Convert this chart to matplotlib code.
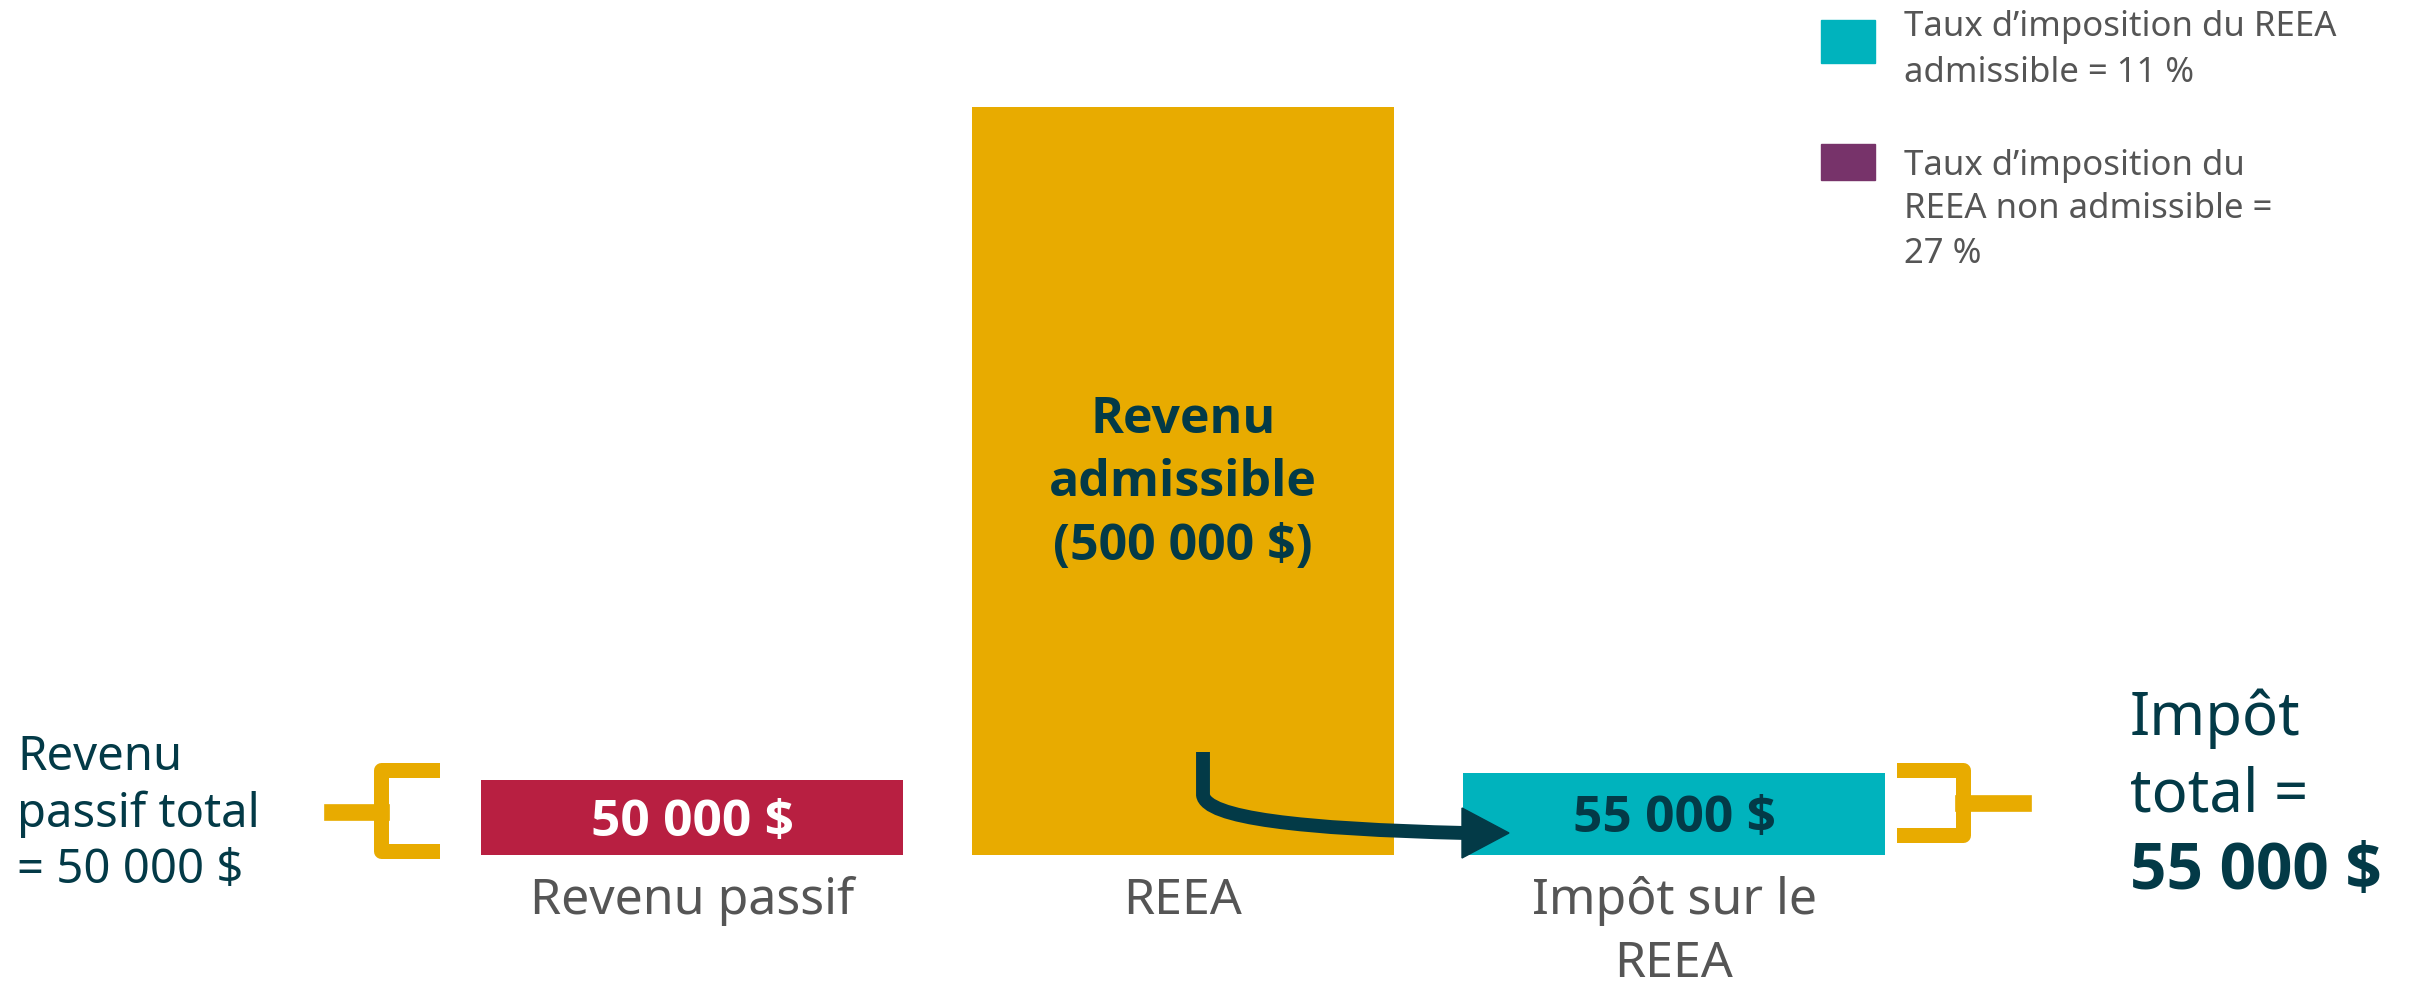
import matplotlib
matplotlib.use("Agg")
import matplotlib.pyplot as plt
from matplotlib import transforms
from matplotlib.path import Path
from matplotlib.patches import PathPatch, Polygon, Rectangle

plt.rcParams['font.family'] = ['Noto Sans', 'DejaVu Sans']
BOLD = ['Open Sans', 'DejaVu Sans']

# data
categories = ["Revenu passif", "REEA", "Impôt sur le\nREEA"]
values = [50000, 500000, 55000]
bar_labels = ["50 000 $", "Revenu\nadmissible\n(500 000 $)", "55 000 $"]
bar_colors = ["#B81F41", "#E8AB00", "#00B3BD"]
label_colors = ["white", "#033A47", "#033A47"]

legend_labels = ["Taux d’imposition du REEA\nadmissible = 11 %",
                 "Taux d’imposition du\nREEA non admissible =\n27 %"]
legend_colors = ["#00B3BD", "#77336A"]

left_note = ["Revenu", "passif total", "= 50 000 $"]
right_note = ["Impôt", "total =", "55 000 $"]

NAVY = "#033A47"
GRAY = "#555555"
GOLD = "#E8AB00"

W, H = 2425, 985
fig = plt.figure(figsize=(W / 100, H / 100), dpi=100)
ax = fig.add_axes([0, 0, 1, 1])
ax.set_axis_off()

# map the data so the bars sit where they do in the layout
ax.set_xlim((0 - 692) / 491, (W - 692) / 491)
ax.set_ylim(-(H - 855) * 500000 / 748, 855 * 500000 / 748)

# pixel transform, y measured from the top
pix = transforms.Affine2D().scale(1 / W, -1 / H).translate(0, 1) + fig.transFigure
xpix = transforms.blended_transform_factory(ax.transData, pix)

x = range(len(categories))
ax.bar(x, values, width=0.8615, color=bar_colors)

# text inside the bars
for i, (lab, c) in enumerate(zip(bar_labels, label_colors)):
    lines = lab.split("\n")
    if len(lines) == 1:
        top = 855 - values[i] * 748 / 500000
        ax.text(i, (top + 855) / 2 + 18, lab, transform=xpix, color=c, fontsize=37,
                family=BOLD, fontweight="bold", ha="center", va="baseline")
    else:
        for k, ln in enumerate(lines):
            ax.text(i, 433 + 63.5 * k, ln, transform=xpix, color=c, fontsize=36,
                    family=BOLD, fontweight="bold", ha="center", va="baseline")

# category labels under the bars
for i, cat in enumerate(categories):
    for k, ln in enumerate(cat.split("\n")):
        ax.text(i, 914 + 63 * k, ln, transform=xpix, color=GRAY, fontsize=36,
                ha="center", va="baseline")

# left note and brace
for k, ln in enumerate(left_note):
    fig.text(17, 770 + 56.5 * k, ln, transform=pix, color=NAVY, fontsize=34,
             va="baseline")
fig.add_artist(plt.Line2D([432, 381, 381, 432], [770, 770, 851, 851], transform=pix,
                          color=GOLD, lw=10.8, solid_joinstyle="round"))
fig.add_artist(plt.Line2D([332, 381], [812, 812], transform=pix, color=GOLD, lw=12))

# right brace and note
fig.add_artist(plt.Line2D([1904, 1963, 1963, 1904], [770, 770, 835, 835], transform=pix,
                          color=GOLD, lw=10.8, solid_joinstyle="round"))
fig.add_artist(plt.Line2D([1963, 2023], [803, 803], transform=pix, color=GOLD, lw=12))
for k, ln in enumerate(right_note):
    if k == 2:
        fig.text(2130, 735 + 77 * k, ln, transform=pix, color=NAVY, fontsize=46,
                 family=BOLD, fontweight="bold", va="baseline")
    else:
        fig.text(2130, 735 + 77 * k, ln, transform=pix, color=NAVY, fontsize=43,
                 va="baseline")

# arrow from the REEA bar to the tax bar
verts = [(1203, 752), (1203, 795), (1206, 818), (1300, 829), (1465, 833)]
codes = [Path.MOVETO, Path.LINETO, Path.CURVE4, Path.CURVE4, Path.CURVE4]
fig.add_artist(PathPatch(Path(verts, codes), transform=pix, fill=False,
                         edgecolor=NAVY, lw=10, capstyle="butt"))
fig.add_artist(Polygon([(1462, 808), (1509, 833), (1462, 858)], closed=True,
                       transform=pix, color=NAVY))

# legend
sq = [(20, 43), (144, 36)]
legend_base = [[36, 82], [175, 218, 263]]
for (top, h), lab, c, bases in zip(sq, legend_labels, legend_colors, legend_base):
    fig.add_artist(Rectangle((1821, top + h), 54, -h, transform=pix, color=c))
    for ln, b in zip(lab.split("\n"), bases):
        fig.text(1904, b, ln, transform=pix, color=GRAY, fontsize=25, va="baseline")

fig.savefig("out.png", dpi=100)
